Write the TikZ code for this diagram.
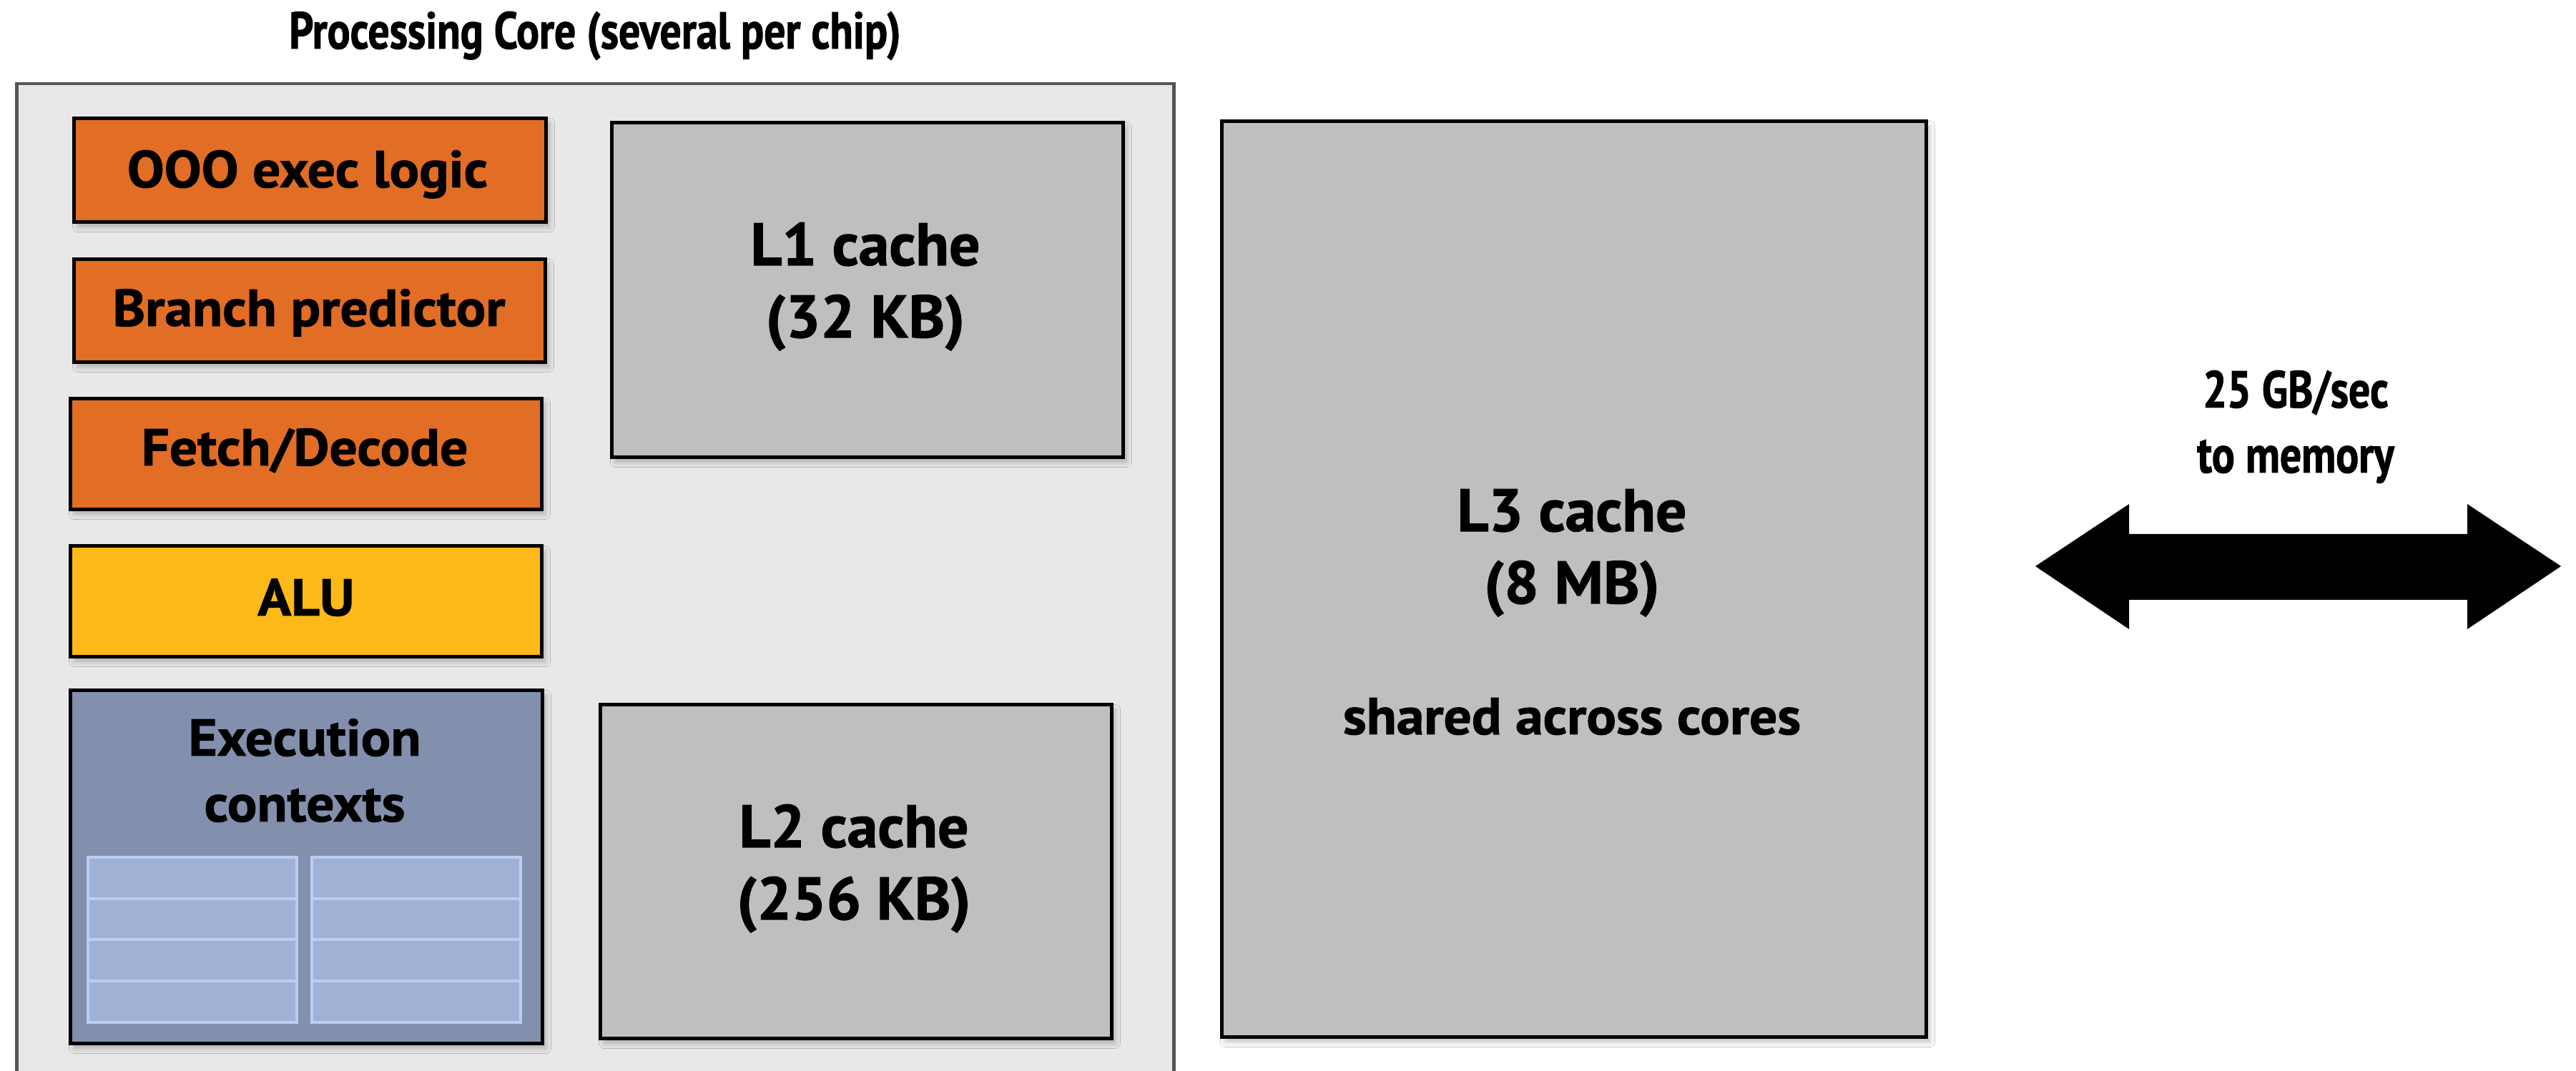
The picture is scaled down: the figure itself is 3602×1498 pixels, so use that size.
\documentclass[tikz,border=0pt]{standalone}
\usepackage{fontspec}
\setmainfont{PT Sans}
\newfontfamily\labelfont[FakeStretch=1.065, BoldFeatures={FakeBold=1.3}]{PT Sans}
\newfontfamily\cachefont[FakeStretch=1.02, BoldFeatures={FakeBold=1.3}]{PT Sans}
\newfontfamily\narrowfont[FakeStretch=0.82, BoldFeatures={FakeBold=1.3}]{PT Sans}
\usetikzlibrary{shadows.blur}

\definecolor{corebg}{HTML}{E8E8E8}
\definecolor{coreline}{HTML}{555555}
\definecolor{ctrlorange}{HTML}{E26D25}
\definecolor{alugold}{HTML}{FDB918}
\definecolor{ctxslate}{HTML}{8290AE}
\definecolor{regfill}{HTML}{A0B1D6}
\definecolor{regline}{HTML}{BCCDF4}
\definecolor{cachegray}{HTML}{BFBFBF}

\begin{document}
\begin{tikzpicture}[x=0.1mm, y=-0.1mm,
  unitbox/.style={draw=black, line width=0.5mm, inner sep=0pt, anchor=north west,
    blur shadow={shadow xshift=0.5mm, shadow yshift=-0.7mm, shadow opacity=25, shadow blur steps=6}},
  lbl/.style={font=\labelfont\bfseries\fontsize{20.7}{25}\selectfont, anchor=base, inner sep=0pt},
  biglbl/.style={font=\cachefont\bfseries\fontsize{23.9}{29}\selectfont, anchor=base, inner sep=0pt},
  narrowlbl/.style={font=\narrowfont\bfseries\fontsize{20.7}{25}\selectfont, anchor=base, inner sep=0pt},
  regcell/.style={fill=regfill, draw=regline, line width=0.45mm}
]
\clip (0,0) rectangle (3602,1498);
\fill[white] (0,0) rectangle (3602,1498);

% processing core outline
\node[draw=coreline, fill=corebg, line width=0.45mm, inner sep=0pt, anchor=north west,
      minimum width=161.8mm, minimum height=150mm] (core) at (21,115) {};
\node[narrowlbl] (coretitle) at (832,68) {Processing Core (several per chip)};

% control and datapath units
\node[unitbox, fill=ctrlorange, minimum width=66.0mm, minimum height=14.5mm] (ooo) at (101,163) {};
\node[lbl] (ooot) at (430,262) {OOO exec logic};

\node[unitbox, fill=ctrlorange, minimum width=65.9mm, minimum height=14.4mm] (bp) at (101,360) {};
\node[lbl] (bpt) at (432,456) {Branch predictor};

\node[unitbox, fill=ctrlorange, minimum width=65.9mm, minimum height=15.5mm] (fd) at (96,555) {};
\node[lbl] (fdt) at (426,651) {Fetch/Decode};

\node[unitbox, fill=alugold, minimum width=65.9mm, minimum height=15.5mm] (alu) at (96,761) {};
\node[lbl] (alut) at (428,861) {ALU};

\node[unitbox, fill=ctxslate, minimum width=66.0mm, minimum height=49.4mm] (ctx) at (96,963) {};
\node[lbl] (ctxt1) at (426,1057) {Execution};
\node[lbl] (ctxt2) at (426,1149) {contexts};

% register files of the execution contexts
\foreach \xa/\xb in {123/415, 436/728}{
  \foreach \ya/\yb in {1199/1257, 1257/1314, 1314/1372, 1372/1430}{
    \filldraw[regcell] (\xa,\ya) rectangle (\xb,\yb);
  }
}

% private caches
\node[unitbox, fill=cachegray, minimum width=71.5mm, minimum height=46.8mm] (l1) at (853,169) {};
\node[biglbl] (l1t1) at (1210,371) {L1 cache};
\node[biglbl] (l1t2) at (1210,472) {(32 KB)};

\node[unitbox, fill=cachegray, minimum width=71.5mm, minimum height=46.7mm] (l2) at (837,983) {};
\node[biglbl] (l2t1) at (1194,1185) {L2 cache};
\node[biglbl] (l2t2) at (1194,1286) {(256 KB)};

% shared cache
\node[unitbox, fill=cachegray, minimum width=98.5mm, minimum height=128.1mm] (l3) at (1706,167) {};
\node[biglbl] (l3t1) at (2198,743) {L3 cache};
\node[biglbl] (l3t2) at (2198,844) {(8 MB)};
\node[lbl] (l3t3) at (2198,1027) {shared across cores};

% memory bandwidth
\node[narrowlbl] (bw1) at (3210,570) {25 GB/sec};
\node[narrowlbl] (bw2) at (3210,661) {to memory};
\fill[black] (2846,792) -- (2977,705) -- (2977,747) -- (3450,747) -- (3450,705)
  -- (3581,792) -- (3450,880) -- (3450,839) -- (2977,839) -- (2977,880) -- cycle;
\end{tikzpicture}
\end{document}
